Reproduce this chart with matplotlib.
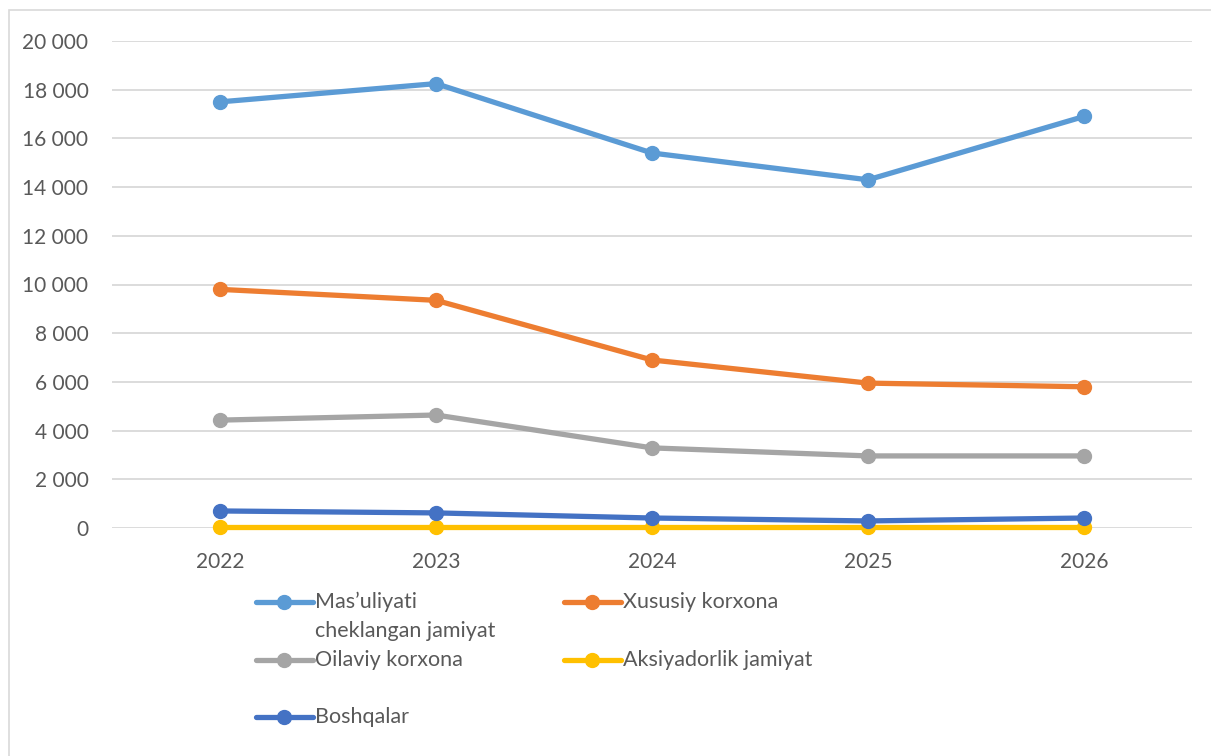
import matplotlib
matplotlib.use('Agg')
import matplotlib.pyplot as plt
from matplotlib.lines import Line2D
from matplotlib.patches import Rectangle
from matplotlib.ticker import FuncFormatter, MultipleLocator

plt.rcParams['font.family'] = ['Lato', 'DejaVu Sans']

# Data
years = ['2022', '2023', '2024', '2025', '2026']
mchj = [17500, 18250, 15400, 14300, 16900]
xususiy = [9800, 9350, 6900, 5950, 5800]
oilaviy = [4430, 4640, 3290, 2960, 2960]
aksiyadorlik = [50, 50, 50, 50, 50]
boshqalar = [700, 620, 410, 290, 410]

labels = ['Mas\u2019uliyati\ncheklangan jamiyat', 'Xususiy korxona',
          'Oilaviy korxona', 'Aksiyadorlik jamiyat', 'Boshqalar']
colors = ['#5B9BD5', '#ED7D31', '#A5A5A5', '#FFC000', '#4472C4']
series = [mchj, xususiy, oilaviy, aksiyadorlik, boshqalar]

W, H = 1211, 756
fig = plt.figure(figsize=(W / 100, H / 100), dpi=100)
ax = fig.add_axes([112 / W, 1 - 528 / H, (1192 - 112) / W, (528 - 41) / H])

x = list(range(len(years)))
for vals, col in zip(series, colors):
    ax.plot(x, vals, color=col, lw=3.8, marker='o', ms=10,
            solid_capstyle='round', zorder=3, clip_on=False)

ax.set_xlim(-0.5, len(years) - 0.5)
ax.set_ylim(0, 20000)
ax.yaxis.set_major_locator(MultipleLocator(2000))
ax.yaxis.set_major_formatter(FuncFormatter(lambda v, p: f'{int(v):,}'.replace(',', ' ')))
ax.set_xticks(x)
ax.set_xticklabels(years)
ax.grid(axis='y', color='#D9D9D9', lw=1.3)
ax.set_axisbelow(True)
for s in ax.spines.values():
    s.set_visible(False)
ax.tick_params(length=0, labelsize=15, labelcolor='#595959')
ax.tick_params(axis='y', pad=17)
ax.tick_params(axis='x', pad=17)

# chart border
fig.add_artist(Rectangle((9 / W, -0.1), 1.2, 1 - 10 / H + 0.1, transform=fig.transFigure,
                         fill=False, edgecolor='#D9D9D9', lw=1.2))

# legend, laid out like the Excel one
entries = [
    (0, 256, 315, 602),
    (1, 564, 623, 602),
    (2, 256, 315, 660),
    (3, 564, 623, 660),
    (4, 256, 315, 717),
]
for i, x0, xt, y in entries:
    yf = 1 - y / H
    fig.add_artist(Line2D([x0 / W, (x0 + 57) / W], [yf, yf], transform=fig.transFigure,
                          color=colors[i], lw=3.8, solid_capstyle='round'))
    fig.add_artist(Line2D([(x0 + 28) / W], [yf], transform=fig.transFigure,
                          color=colors[i], marker='o', ms=10))
    lines = labels[i].split('\n')
    for k, t in enumerate(lines):
        fig.text(xt / W, 1 - (y + 29 * k) / H, t, fontsize=15.5, color='#595959',
                 ha='left', va='center')

fig.savefig('out.png', dpi=100)
